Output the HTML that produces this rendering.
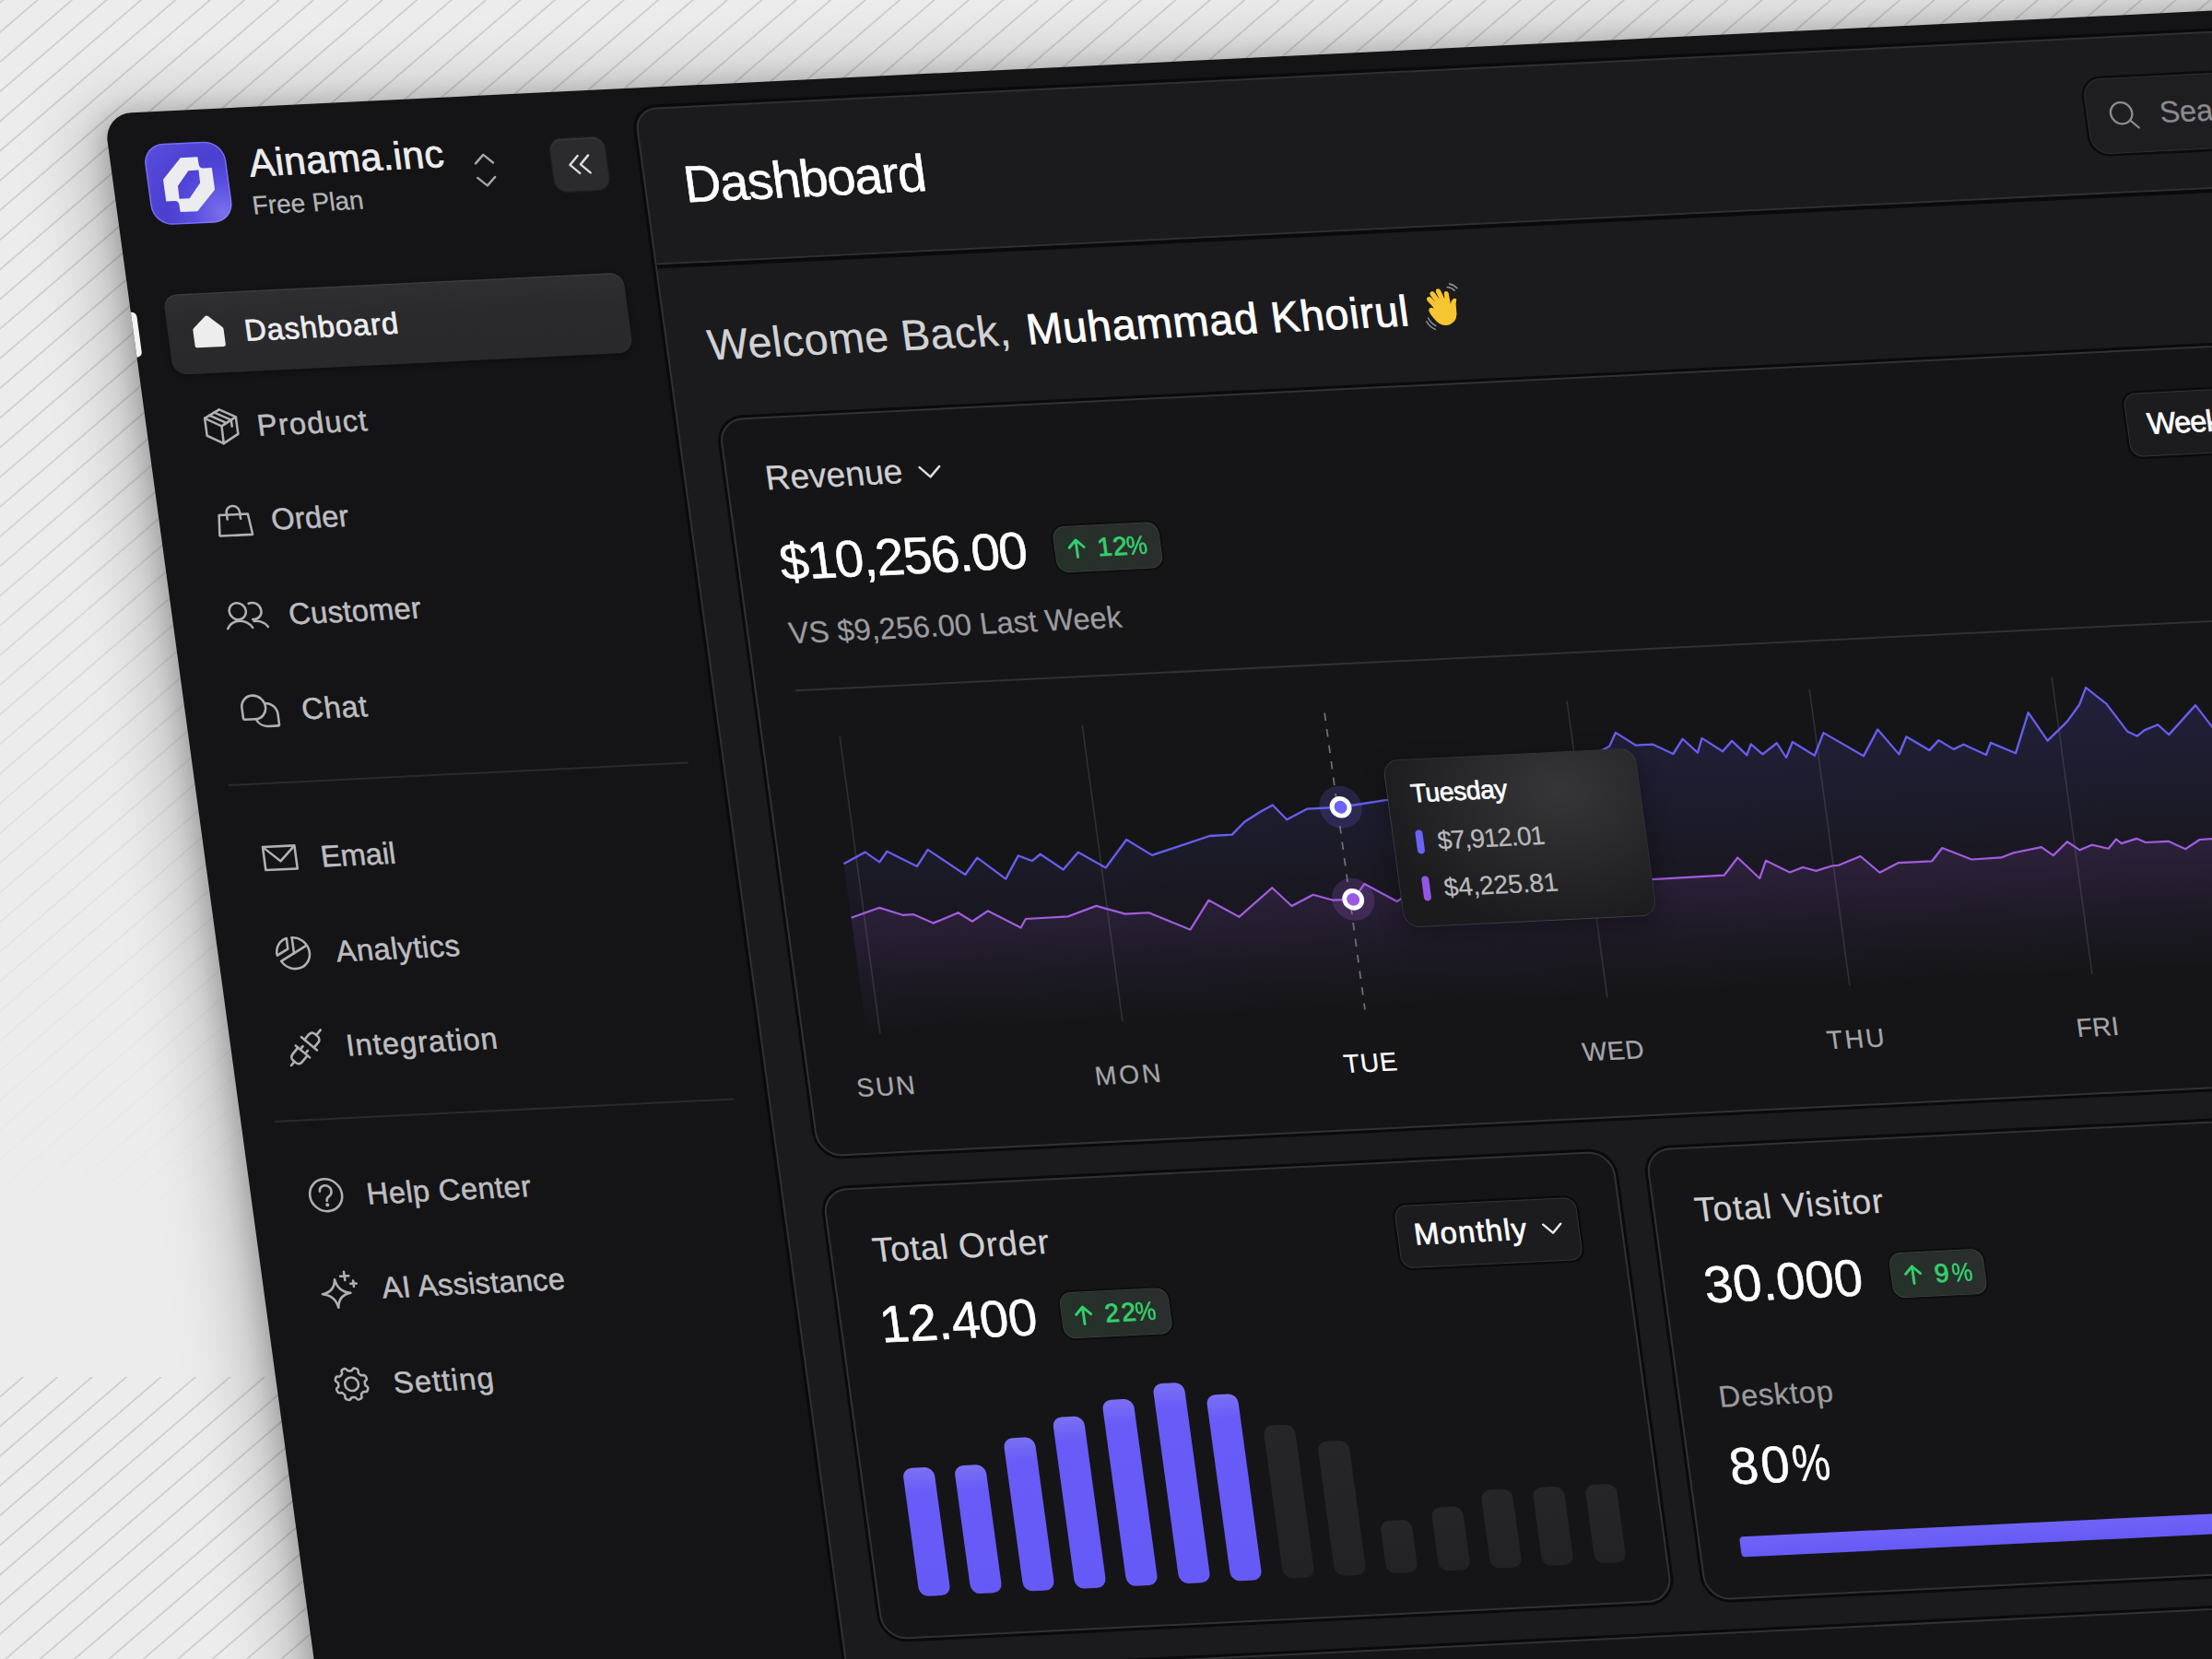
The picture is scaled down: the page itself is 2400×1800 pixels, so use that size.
<!DOCTYPE html>
<html lang="en"><head><meta charset="utf-8"><title>Dashboard</title>
<style>
html,body{margin:0;padding:0}
body{width:2400px;height:1800px;overflow:hidden;position:relative;background:#ececec;font-family:"Liberation Sans",Arial,sans-serif}
#bg{position:absolute;left:0;top:0}
#stage{position:absolute;left:0;top:0;width:0;height:0;transform-origin:0 0;transform:matrix(1,-0.049,0.136,1,112.6,123.7)}
#panel{position:absolute;left:0;top:0;width:2600px;height:2000px;overflow:hidden;background:#141416;border-top-left-radius:30px;box-shadow:-20px -2px 75px rgba(0,0,0,.25),-6px 0 24px rgba(0,0,0,.16)}
.t{position:absolute;white-space:nowrap;display:block}
.ic{position:absolute;overflow:visible}
.card{position:absolute;background:#151517;border:2px solid #323235;box-shadow:0 0 0 3px #0a0a0c;border-radius:27px;box-sizing:border-box}
.badge{position:absolute;box-sizing:border-box;border:1.6px solid #3a403d;border-radius:13px;background:linear-gradient(60deg,#243229 0%,#282f2b 50%,#2b2e2d 100%);box-shadow:0 0 0 2px #0d0e0e}
.btn{position:absolute;box-sizing:border-box;border:1.8px solid #343437;border-radius:13px;background:#1c1c1f;box-shadow:0 0 0 2.5px #0b0b0d}
</style></head><body>
<svg id="bg" width="2400" height="1800" viewBox="0 0 2400 1800"><defs><pattern id="st" width="24.4" height="24.4" patternUnits="userSpaceOnUse" patternTransform="rotate(-40.7)"><rect x="0" y="1.55" width="24.4" height="1.3" fill="#c3c3c5"/></pattern><linearGradient id="fd" x1="0" y1="0" x2="0" y2="1"><stop offset="0" stop-color="#fff"/><stop offset=".3" stop-color="#fff" stop-opacity=".95"/><stop offset=".5" stop-color="#fff" stop-opacity=".55"/><stop offset=".72" stop-color="#fff" stop-opacity=".22"/><stop offset=".9" stop-color="#fff" stop-opacity="0"/></linearGradient><mask id="mk"><rect x="0" y="0" width="2400" height="1494" fill="url(#fd)"/></mask></defs><rect x="0" y="0" width="2400" height="1494" fill="url(#st)" mask="url(#mk)"/><rect x="0" y="1494" width="2400" height="306" fill="url(#st)"/></svg>
<div id="stage"><div id="panel">

<!-- sidebar -->
<div style="position:absolute;left:37px;top:35px;width:88px;height:88px;border-radius:22px;background:radial-gradient(circle at 88% 88%,#7a70ea 0%,#5a4ee0 30%,#4b3fd0 55%,#5b4fe0 100%);box-shadow:inset 0 0 0 1.5px rgba(150,140,255,.55);overflow:hidden"><svg width="88" height="88" viewBox="0 0 88 88" style="position:absolute;left:0;top:0"><path fill-rule="evenodd" fill="#ececee" d="M39.2 16.3 L57.8 16.3 L58 24.4 Q58.2 28.4 62.2 28.6 L71.6 28.6 L71.6 52.3 L49.8 74.7 L31.2 74.7 L31 66.6 Q30.8 62.6 26.8 62.4 L17.4 62.4 L17.4 38.7 Z M45.9 30.5 L57 30.5 L56.7 44.5 L43.1 60.5 L32 60.5 L32.3 46.5 Z"/></svg></div>
<span class="t" style="left:149.1px;top:40.1px;font-size:41.9px;line-height:41.9px;color:#ececee;letter-spacing:0.42px;-webkit-text-stroke:0.75px #ececee;">Ainama.inc</span>
<span class="t" style="left:146.7px;top:93.2px;font-size:28.0px;line-height:28.0px;color:#b4b4b7;letter-spacing:-0.10px;-webkit-text-stroke:0.25px #b4b4b7;">Free Plan</span>
<svg class="ic" style="left:388.6px;top:62px" width="28" height="38" viewBox="0 0 28 38" fill="none" stroke="#a6a6a9" stroke-width="2.4" stroke-linecap="round" stroke-linejoin="round"><path d="M4.5 11 L14 2 L23.5 11"/><path d="M4.5 26.5 L14 35.5 L23.5 26.5"/></svg>
<div style="position:absolute;left:476px;top:51px;width:59px;height:57px;border-radius:13px;background:#2b2b2e;box-shadow:inset 0 1.5px 0 rgba(255,255,255,.07),0 0 0 1.5px #1d1d20"><svg width="59" height="57" viewBox="0 0 59 57" fill="none" stroke="#dcdcde" stroke-width="2.4" stroke-linecap="round" stroke-linejoin="round"><path d="M28.5 19 L19 28.5 L28.5 38"/><path d="M40 19 L30.5 28.5 L40 38"/></svg></div>
<div style="position:absolute;left:36.5px;top:197.5px;width:499.5px;height:87px;border-radius:15px;background:linear-gradient(180deg,#2f2f32 0%,#2a2a2d 40%,#29292c 100%);box-shadow:inset 0 1.5px 0 rgba(255,255,255,.06),0 2px 6px rgba(0,0,0,.35)"></div>
<div style="position:absolute;left:-5px;top:215px;width:10.5px;height:49px;border-radius:6px;background:#f4f4f5"></div>
<svg class="ic" style="left:55.0px;top:213.9px" width="52" height="52" viewBox="-26 -26 52 52" fill="#ededee" stroke="none" stroke-width="2.55" stroke-linecap="round" stroke-linejoin="round"><path d="M0 -17.3 Q0.9 -17.3 1.7 -16.6 L15.6 -4.2 Q16.6 -3.3 16.6 -2 L16.6 14.6 Q16.6 16.9 14.3 16.9 L-14.3 16.9 Q-16.6 16.9 -16.6 14.6 L-16.6 -2 Q-16.6 -3.3 -15.6 -4.2 L-1.7 -16.6 Q-0.9 -17.3 0 -17.3 Z"/></svg>
<span class="t" style="left:119.8px;top:224.8px;font-size:32.6px;line-height:32.6px;color:#ededee;letter-spacing:0.90px;-webkit-text-stroke:0.75px #ededee;">Dashboard</span>
<svg class="ic" style="left:55.0px;top:316.9px" width="52" height="52" viewBox="-26 -26 52 52" fill="none" stroke="#b0b0b3" stroke-width="2.55" stroke-linecap="round" stroke-linejoin="round"><path d="M0 -18.4 L16.9 -9.6 L16.9 8.9 L0 18.4 L-16.8 9.2 L-16.8 -9.6 Z"/><path d="M-16.8 -9.6 L0.3 -0.4 L16.9 -9.6 M0.3 -0.4 L0 18.4"/><path d="M-5.6 -15.4 L11.4 -6.5 L11.4 0.4 M-11.2 -12.5 L5.9 -3.5"/></svg>
<span class="t" style="left:119.7px;top:327.5px;font-size:32.6px;line-height:32.6px;color:#bdbdc0;letter-spacing:1.08px;-webkit-text-stroke:0.5px #bdbdc0;">Product</span>
<svg class="ic" style="left:55.0px;top:419.6px" width="52" height="52" viewBox="-26 -26 52 52" fill="none" stroke="#b0b0b3" stroke-width="2.55" stroke-linecap="round" stroke-linejoin="round"><path d="M-15.6 -7.4 L15.6 -7.4 L17.8 14.2 Q17.9 15 17.1 15 L-17.1 15 Q-17.9 15 -17.8 14.2 Z"/><path d="M-7.2 -2.6 L-7.2 -9.6 A7.2 7.2 0 0 1 7.2 -9.6 L7.2 -2.6"/></svg>
<span class="t" style="left:121.0px;top:430.2px;font-size:32.6px;line-height:32.6px;color:#bdbdc0;letter-spacing:0.17px;-webkit-text-stroke:0.5px #bdbdc0;">Order</span>
<svg class="ic" style="left:55.0px;top:522.3px" width="52" height="52" viewBox="-26 -26 52 52" fill="none" stroke="#b0b0b3" stroke-width="2.55" stroke-linecap="round" stroke-linejoin="round"><circle cx="-9.7" cy="-5" r="9"/><path d="M-22.8 13.4 A15.6 15.6 0 0 1 4.2 13.4"/><path d="M3.2 -12.6 A9 9 0 1 1 5.4 4.5"/><path d="M6.6 6.5 Q16.4 6.2 21 13.2"/></svg>
<span class="t" style="left:125.9px;top:532.9px;font-size:32.6px;line-height:32.6px;color:#bdbdc0;letter-spacing:0.31px;-webkit-text-stroke:0.5px #bdbdc0;">Customer</span>
<svg class="ic" style="left:55.0px;top:625.0px" width="52" height="52" viewBox="-26 -26 52 52" fill="none" stroke="#b0b0b3" stroke-width="2.55" stroke-linecap="round" stroke-linejoin="round"><path d="M-19.2 -3.6 A12.8 12.8 0 1 1 -6.4 9.2 L-17.7 9.2 Q-19.2 9.2 -19.2 7.7 Z"/><path d="M5.79 -7.49 A12.5 12.5 0 0 1 18.70 5.00 L18.70 16.00 Q18.70 17.50 17.20 17.50 L6.20 17.50 A12.5 12.5 0 0 1 -5.58 9.17"/></svg>
<span class="t" style="left:125.9px;top:635.6px;font-size:32.6px;line-height:32.6px;color:#bdbdc0;letter-spacing:0.71px;-webkit-text-stroke:0.5px #bdbdc0;">Chat</span>
<svg class="ic" style="left:55.0px;top:785.3px" width="52" height="52" viewBox="-26 -26 52 52" fill="none" stroke="#b0b0b3" stroke-width="2.55" stroke-linecap="round" stroke-linejoin="round"><path d="M-17.2 -12.5 L17.2 -12.5 L17.2 12.5 L-17.2 12.5 Z"/><path d="M-16.6 -11.9 L0 3.6 L16.6 -11.9"/></svg>
<span class="t" style="left:124.9px;top:795.9px;font-size:32.6px;line-height:32.6px;color:#bdbdc0;letter-spacing:-0.09px;-webkit-text-stroke:0.5px #bdbdc0;">Email</span>
<svg class="ic" style="left:55.0px;top:888.0px" width="52" height="52" viewBox="-26 -26 52 52" fill="none" stroke="#b0b0b3" stroke-width="2.55" stroke-linecap="round" stroke-linejoin="round"><path d="M1 -16.4 A16.9 16.9 0 1 1 -13.9 8.5 L15.9 -7.4"/><path d="M1 -16.4 L1 0.5"/><path d="M-4.9 -16 L-5 -4.4 L-17.4 2 A16.8 16.8 0 0 1 -4.9 -16 Z"/></svg>
<span class="t" style="left:127.5px;top:898.6px;font-size:32.6px;line-height:32.6px;color:#bdbdc0;letter-spacing:0.46px;-webkit-text-stroke:0.5px #bdbdc0;">Analytics</span>
<svg class="ic" style="left:55.0px;top:990.7px" width="52" height="52" viewBox="-26 -26 52 52" fill="none" stroke="#b0b0b3" stroke-width="2.55" stroke-linecap="round" stroke-linejoin="round"><g transform="rotate(-45)"><path d="M-26 0 L-20.3 0 M18.4 0 L26 0"/><path d="M-5.7 -6.4 L-15 -6.4 Q-20.3 -6.4 -20.3 -1.2 L-20.3 1.2 Q-20.3 6.4 -15 6.4 L-5.7 6.4"/><path d="M-5.7 -9.6 L-5.7 9.6 M-5.7 -3.4 L-1 -3.4 M-5.7 3.4 L-1 3.4"/><path d="M5.9 -10.6 L5.9 10.6"/><path d="M5.9 -6.4 L13.1 -6.4 Q18.4 -6.4 18.4 -1.2 L18.4 1.2 Q18.4 6.4 13.1 6.4 L5.9 6.4"/></g></svg>
<span class="t" style="left:124.6px;top:1001.3px;font-size:32.6px;line-height:32.6px;color:#bdbdc0;letter-spacing:1.00px;-webkit-text-stroke:0.5px #bdbdc0;">Integration</span>
<svg class="ic" style="left:55.0px;top:1151.0px" width="52" height="52" viewBox="-26 -26 52 52" fill="none" stroke="#b0b0b3" stroke-width="2.55" stroke-linecap="round" stroke-linejoin="round"><circle cx="0" cy="0" r="17.4"/><path d="M-6.2 -4.4 A6.3 6.3 0 1 1 3.4 1.2 Q0.2 2.8 0.2 6.2"/><circle cx="0.2" cy="10.6" r="1.5" fill="#b0b0b3" stroke-width="1"/></svg>
<span class="t" style="left:124.9px;top:1161.6px;font-size:32.6px;line-height:32.6px;color:#bdbdc0;letter-spacing:0.42px;-webkit-text-stroke:0.5px #bdbdc0;">Help Center</span>
<svg class="ic" style="left:55.0px;top:1253.7px" width="52" height="52" viewBox="-26 -26 52 52" fill="none" stroke="#b0b0b3" stroke-width="2.55" stroke-linecap="round" stroke-linejoin="round"><path d="M-3 -11.7 Q-1.2 1.8 12.3 3.6 Q-1.2 5.4 -3 18.9 Q-4.8 5.4 -18.3 3.6 Q-4.8 1.8 -3 -11.7 Z"/><path d="M8 -19.5 L8 -10.3 M3.4 -14.9 L12.6 -14.9 M16.7 -9.5 L16.7 -3.1 M13.5 -6.3 L19.9 -6.3"/></svg>
<span class="t" style="left:127.5px;top:1264.3px;font-size:32.6px;line-height:32.6px;color:#bdbdc0;letter-spacing:0.23px;-webkit-text-stroke:0.5px #bdbdc0;">AI Assistance</span>
<svg class="ic" style="left:55.0px;top:1356.4px" width="52" height="52" viewBox="-26 -26 52 52" fill="none" stroke="#b0b0b3" stroke-width="2.55" stroke-linecap="round" stroke-linejoin="round"><circle cx="0" cy="0" r="7.3"/><path d="M16.49 6.83 L16.20 7.47 L15.87 8.08 L15.42 8.64 L14.68 9.00 L13.39 8.94 L12.12 8.80 L11.40 8.99 L10.94 9.35 L10.54 9.75 L10.15 10.15 L9.75 10.54 L9.35 10.94 L8.99 11.40 L8.80 12.12 L8.94 13.39 L9.00 14.68 L8.64 15.42 L8.08 15.87 L7.47 16.20 L6.83 16.49 L6.18 16.74 L5.50 16.94 L4.80 17.02 L4.02 16.75 L3.14 15.79 L2.34 14.79 L1.71 14.42 L1.13 14.35 L0.56 14.35 L0.00 14.35 L-0.56 14.35 L-1.13 14.35 L-1.71 14.42 L-2.34 14.79 L-3.14 15.79 L-4.02 16.75 L-4.80 17.02 L-5.50 16.94 L-6.18 16.74 L-6.83 16.49 L-7.47 16.20 L-8.08 15.87 L-8.64 15.42 L-9.00 14.68 L-8.94 13.39 L-8.80 12.12 L-8.99 11.40 L-9.35 10.94 L-9.75 10.54 L-10.15 10.15 L-10.54 9.75 L-10.94 9.35 L-11.40 8.99 L-12.12 8.80 L-13.39 8.94 L-14.68 9.00 L-15.42 8.64 L-15.87 8.08 L-16.20 7.47 L-16.49 6.83 L-16.74 6.18 L-16.94 5.50 L-17.02 4.80 L-16.75 4.02 L-15.79 3.14 L-14.79 2.34 L-14.42 1.71 L-14.35 1.13 L-14.35 0.56 L-14.35 0.00 L-14.35 -0.56 L-14.35 -1.13 L-14.42 -1.71 L-14.79 -2.34 L-15.79 -3.14 L-16.75 -4.02 L-17.02 -4.80 L-16.94 -5.50 L-16.74 -6.18 L-16.49 -6.83 L-16.20 -7.47 L-15.87 -8.08 L-15.42 -8.64 L-14.68 -9.00 L-13.39 -8.94 L-12.12 -8.80 L-11.40 -8.99 L-10.94 -9.35 L-10.54 -9.75 L-10.15 -10.15 L-9.75 -10.54 L-9.35 -10.94 L-8.99 -11.40 L-8.80 -12.12 L-8.94 -13.39 L-9.00 -14.68 L-8.64 -15.42 L-8.08 -15.87 L-7.47 -16.20 L-6.83 -16.49 L-6.18 -16.74 L-5.50 -16.94 L-4.80 -17.02 L-4.02 -16.75 L-3.14 -15.79 L-2.34 -14.79 L-1.71 -14.42 L-1.13 -14.35 L-0.56 -14.35 L-0.00 -14.35 L0.56 -14.35 L1.13 -14.35 L1.71 -14.42 L2.34 -14.79 L3.14 -15.79 L4.02 -16.75 L4.80 -17.02 L5.50 -16.94 L6.18 -16.74 L6.83 -16.49 L7.47 -16.20 L8.08 -15.87 L8.64 -15.42 L9.00 -14.68 L8.94 -13.39 L8.80 -12.12 L8.99 -11.40 L9.35 -10.94 L9.75 -10.54 L10.15 -10.15 L10.54 -9.75 L10.94 -9.35 L11.40 -8.99 L12.12 -8.80 L13.39 -8.94 L14.68 -9.00 L15.42 -8.64 L15.87 -8.08 L16.20 -7.47 L16.49 -6.83 L16.74 -6.18 L16.94 -5.50 L17.02 -4.80 L16.75 -4.02 L15.79 -3.14 L14.79 -2.34 L14.42 -1.71 L14.35 -1.13 L14.35 -0.56 L14.35 -0.00 L14.35 0.56 L14.35 1.13 L14.42 1.71 L14.79 2.34 L15.79 3.14 L16.75 4.02 L17.02 4.80 L16.94 5.50 L16.74 6.18 Z"/></svg>
<span class="t" style="left:126.0px;top:1367.0px;font-size:32.6px;line-height:32.6px;color:#bdbdc0;letter-spacing:1.22px;-webkit-text-stroke:0.5px #bdbdc0;">Setting</span>
<div style="position:absolute;left:36.0px;top:729.0px;width:499.0px;height:2.0px;background:#2a2a2d"></div>
<div style="position:absolute;left:36.0px;top:1094.0px;width:499.0px;height:2.0px;background:#2a2a2d"></div>
<!-- main -->
<div style="position:absolute;left:571.5px;top:22px;width:2100px;height:2000px;background:#1b1b1e;border:2px solid #303033;border-top-left-radius:24px;box-shadow:0 0 0 3.2px #0a0a0c;box-sizing:border-box"></div>
<div style="position:absolute;left:573.5px;top:190.0px;width:2100.0px;height:2.0px;background:#303033"></div>
<div style="position:absolute;left:573.5px;top:192.0px;width:2100.0px;height:3.6px;background:#0a0a0c"></div>
<span class="t" style="left:614.7px;top:79.0px;font-size:55.9px;line-height:55.9px;color:#ffffff;letter-spacing:-1.30px;-webkit-text-stroke:0.55px #ffffff;">Dashboard</span>
<div class="btn" style="left:2137px;top:67px;width:420px;height:82px;border-radius:20px;background:#1e1e21;border-color:#2e2e31"></div>
<svg class="ic" style="left:2158px;top:89px" width="40" height="40" viewBox="0 0 40 40" fill="none" stroke="#8c8c90" stroke-width="2.3" stroke-linecap="round"><circle cx="16.7" cy="16.6" r="11.6"/><path d="M25.2 25 L33.6 33.2"/></svg>
<span class="t" style="left:2216.0px;top:91.4px;font-size:32.6px;line-height:32.6px;color:#8a8a8e;letter-spacing:-0.15px;-webkit-text-stroke:0.25px #8a8a8e;">Search</span>
<span class="t" style="left:616.9px;top:257.8px;font-size:46.6px;line-height:46.6px;color:#d2d2d4;letter-spacing:0.45px;-webkit-text-stroke:0.25px #d2d2d4;">Welcome Back,</span>
<span class="t" style="left:962.7px;top:257.8px;font-size:46.6px;line-height:46.6px;color:#ffffff;letter-spacing:0.70px;-webkit-text-stroke:0.75px #ffffff;">Muhammad Khoirul</span>
<svg class="ic" style="left:1391px;top:256px" width="48" height="48" viewBox="0 0 48 48"><g transform="rotate(-12 24 24)"><path d="M14 20 L10.5 12.5 Q9.5 9.5 12 8.6 Q14.4 7.8 15.6 10.4 L18 15.5 L15.6 7.4 Q15 4.4 17.6 3.8 Q20 3.2 21 6 L23.4 13.6 L22.6 5.6 Q22.6 2.8 25 2.6 Q27.6 2.6 28 5.4 L29 15 L30.4 9.4 Q31.2 6.8 33.4 7.4 Q35.8 8.2 35.2 11 L33.4 22 Q35 18.6 37.6 17.4 Q40.6 16.4 41.4 18.4 Q38.4 23 37.4 29 Q35.4 41 25.6 42.6 Q17 43.6 12.6 36 Q9 29 8.4 24.6 Q7.8 21 10.4 20.2 Q12.8 19.6 14 22 Z" fill="#f7c531"/><path d="M5 30 Q5.5 36 10 40 M2 33 Q3 39.5 8 43.5 M36 3.5 Q40.5 5 42.5 9 M39.5 1 Q44 3 46 7.5" fill="none" stroke="#8d8d92" stroke-width="1.6" stroke-linecap="round"/></g></svg>
<div class="card" style="left:616.5px;top:360.5px;width:1800px;height:801.5px"></div>
<span class="t" style="left:659.6px;top:409.3px;font-size:37.3px;line-height:37.3px;color:#cfcfd2;letter-spacing:-0.09px;-webkit-text-stroke:0.25px #cfcfd2;">Revenue</span>
<svg class="ic" style="left:826.2px;top:420px" width="24" height="20" viewBox="0 0 24 20" fill="none" stroke="#dedee0" stroke-width="2.5" stroke-linecap="round" stroke-linejoin="round"><path d="M1.4 4 L11.8 14.8 L22.8 3.9"/></svg>
<span class="t" style="left:663.1px;top:491.0px;font-size:55.9px;line-height:55.9px;color:#ffffff;letter-spacing:-1.28px;-webkit-text-stroke:0.55px #ffffff;">$10,256.00</span>
<div class="badge" style="left:961px;top:494.5px;width:114.5px;height:50px"></div><svg class="ic" style="left:974.5px;top:508.0px" width="20" height="23" viewBox="0 0 20 23" fill="none" stroke="#33cf6c" stroke-width="2.9" stroke-linecap="round" stroke-linejoin="round"><path d="M10 21 L10 2.5 M2 10.5 L10 2.5 L18 10.5"/></svg><span class="t" style="left:1007.4px;top:505.8px;font-size:28.0px;line-height:28.0px;color:#33cf6c;letter-spacing:1.25px;-webkit-text-stroke:0.8px #33cf6c;">12</span><span class="t" style="left:1038.6px;top:505.8px;font-size:28.0px;line-height:28.0px;color:#33cf6c;transform:scaleX(0.897);transform-origin:0 0;-webkit-text-stroke:0.55px #33cf6c;">%</span>
<span class="t" style="left:662.3px;top:580.0px;font-size:32.6px;line-height:32.6px;color:#9c9ca0;letter-spacing:0.05px;-webkit-text-stroke:0.25px #9c9ca0;">VS $9,256.00 Last Week</span>
<div style="position:absolute;left:660.7px;top:657.2px;width:1760.0px;height:2.2px;background:#313134"></div>
<svg class="ic" style="left:0;top:0" width="2600" height="1300" viewBox="0 0 2600 1300"><defs><linearGradient id="gb" gradientUnits="userSpaceOnUse" x1="0" y1="720" x2="0" y2="1032"><stop offset="0" stop-color="#6a5cff" stop-opacity=".16"/><stop offset=".55" stop-color="#6a5cff" stop-opacity=".05"/><stop offset="1" stop-color="#6a5cff" stop-opacity="0"/></linearGradient><linearGradient id="gp" gradientUnits="userSpaceOnUse" x1="0" y1="885" x2="0" y2="1032"><stop offset="0" stop-color="#b25cf0" stop-opacity=".13"/><stop offset=".6" stop-color="#b25cf0" stop-opacity=".04"/><stop offset="1" stop-color="#b25cf0" stop-opacity="0"/></linearGradient></defs><path d="M702 710 L702 1032" stroke="#303033" stroke-width="1.6"/><path d="M965 710 L965 1032" stroke="#303033" stroke-width="1.6"/><path d="M1491 710 L1491 1032" stroke="#303033" stroke-width="1.6"/><path d="M1754 710 L1754 1032" stroke="#303033" stroke-width="1.6"/><path d="M2017 710 L2017 1032" stroke="#303033" stroke-width="1.6"/><path d="M2280 710 L2280 1032" stroke="#303033" stroke-width="1.6"/><path d="M2543 710 L2543 1032" stroke="#303033" stroke-width="1.6"/><path d="M687.6 847.3 L712.5 835.8 L726.4 847.3 L736.1 836.1 L766.2 853.9 L780.3 836.4 L817.0 865.3 L832.4 847.7 L860.0 872.1 L876.9 847.7 L891.0 854.0 L900.9 847.2 L923.4 865.1 L942.1 847.1 L969.5 865.2 L995.9 836.1 L1021.2 854.2 L1086.0 836.5 L1110.4 836.3 L1125.7 823.2 L1144.8 812.8 L1158.5 806.6 L1171.7 823.0 L1194.9 812.5 L1231.5 812.4 L1281.0 807.2 L1330.0 806.0 L1365.0 790.0 L1400.0 797.0 L1440.0 778.0 L1480.0 784.0 L1530.1 761.1 L1538.8 746.6 L1558.5 761.2 L1577.5 761.3 L1597.7 772.6 L1610.1 756.9 L1624.3 772.5 L1631.0 757.1 L1651.4 772.5 L1662.9 761.7 L1677.0 777.8 L1682.9 766.2 L1694.1 777.7 L1711.0 766.4 L1719.0 782.5 L1728.1 766.0 L1749.9 781.8 L1762.8 757.8 L1802.7 784.8 L1821.7 757.0 L1841.1 784.9 L1851.6 766.2 L1874.3 782.2 L1885.9 771.9 L1900.7 782.3 L1912.2 777.7 L1934.9 790.1 L1941.6 777.3 L1967.0 789.9 L1986.5 746.8 L2003.2 778.1 L2027.1 758.5 L2042.6 741.2 L2052.3 722.9 L2072.0 741.5 L2090.4 772.2 L2100.5 777.9 L2108.9 772.0 L2124.4 766.6 L2134.8 778.0 L2167.8 747.7 L2182.4 771.7 L2200.0 782.0 L2215.0 760.0 L2240.0 775.0 L2260.0 752.0 L2290.0 770.0 L2330.0 758.0 L2380.0 772.0 L2420.0 760.0 L2420 1032 L687.6 1032 Z" fill="url(#gb)"/><path d="M687.8 905.7 L719.8 896.4 L744.3 905.7 L755.1 905.4 L775.4 915.9 L803.9 905.9 L817.7 916.1 L836.0 905.6 L869.1 925.4 L875.7 916.2 L921.9 915.8 L953.6 905.9 L983.7 916.1 L1009.2 916.0 L1051.5 936.5 L1075.7 905.7 L1105.9 925.3 L1145.9 895.7 L1164.3 916.3 L1189.0 905.3 L1209.8 912.3 L1231.5 912.5 L1245.9 896.4 L1278.3 917.0 L1300.0 905.0 L1340.0 916.0 L1380.0 906.0 L1420.0 912.0 L1470.0 906.0 L1556.4 906.7 L1635.1 906.0 L1652.0 887.8 L1672.7 911.2 L1682.0 892.5 L1706.0 906.4 L1721.0 901.6 L1734.5 906.2 L1752.5 901.7 L1759.8 901.3 L1784.6 892.8 L1802.9 911.4 L1824.8 901.8 L1861.0 901.8 L1873.9 888.2 L1903.9 902.1 L1936.0 901.6 L1950.2 897.1 L1980.9 892.5 L1992.5 902.1 L2009.5 888.0 L2022.0 897.7 L2035.6 892.7 L2053.0 897.6 L2062.7 887.9 L2067.7 892.7 L2084.8 888.3 L2093.9 892.9 L2118.7 892.9 L2136.0 902.1 L2152.6 892.8 L2166.0 892.5 L2200.0 893.0 L2230.0 886.0 L2260.0 895.0 L2300.0 888.0 L2340.0 893.0 L2380.0 886.0 L2420.0 890.0 L2420 1032 L687.8 1032 Z" fill="url(#gp)"/><path d="M687.6 847.3 L712.5 835.8 L726.4 847.3 L736.1 836.1 L766.2 853.9 L780.3 836.4 L817.0 865.3 L832.4 847.7 L860.0 872.1 L876.9 847.7 L891.0 854.0 L900.9 847.2 L923.4 865.1 L942.1 847.1 L969.5 865.2 L995.9 836.1 L1021.2 854.2 L1086.0 836.5 L1110.4 836.3 L1125.7 823.2 L1144.8 812.8 L1158.5 806.6 L1171.7 823.0 L1194.9 812.5 L1231.5 812.4 L1281.0 807.2 L1330.0 806.0 L1365.0 790.0 L1400.0 797.0 L1440.0 778.0 L1480.0 784.0 L1530.1 761.1 L1538.8 746.6 L1558.5 761.2 L1577.5 761.3 L1597.7 772.6 L1610.1 756.9 L1624.3 772.5 L1631.0 757.1 L1651.4 772.5 L1662.9 761.7 L1677.0 777.8 L1682.9 766.2 L1694.1 777.7 L1711.0 766.4 L1719.0 782.5 L1728.1 766.0 L1749.9 781.8 L1762.8 757.8 L1802.7 784.8 L1821.7 757.0 L1841.1 784.9 L1851.6 766.2 L1874.3 782.2 L1885.9 771.9 L1900.7 782.3 L1912.2 777.7 L1934.9 790.1 L1941.6 777.3 L1967.0 789.9 L1986.5 746.8 L2003.2 778.1 L2027.1 758.5 L2042.6 741.2 L2052.3 722.9 L2072.0 741.5 L2090.4 772.2 L2100.5 777.9 L2108.9 772.0 L2124.4 766.6 L2134.8 778.0 L2167.8 747.7 L2182.4 771.7 L2200.0 782.0 L2215.0 760.0 L2240.0 775.0 L2260.0 752.0 L2290.0 770.0 L2330.0 758.0 L2380.0 772.0 L2420.0 760.0" fill="none" stroke="#665ef0" stroke-width="2.3" stroke-linejoin="round"/><path d="M687.8 905.7 L719.8 896.4 L744.3 905.7 L755.1 905.4 L775.4 915.9 L803.9 905.9 L817.7 916.1 L836.0 905.6 L869.1 925.4 L875.7 916.2 L921.9 915.8 L953.6 905.9 L983.7 916.1 L1009.2 916.0 L1051.5 936.5 L1075.7 905.7 L1105.9 925.3 L1145.9 895.7 L1164.3 916.3 L1189.0 905.3 L1209.8 912.3 L1231.5 912.5 L1245.9 896.4 L1278.3 917.0 L1300.0 905.0 L1340.0 916.0 L1380.0 906.0 L1420.0 912.0 L1470.0 906.0 L1556.4 906.7 L1635.1 906.0 L1652.0 887.8 L1672.7 911.2 L1682.0 892.5 L1706.0 906.4 L1721.0 901.6 L1734.5 906.2 L1752.5 901.7 L1759.8 901.3 L1784.6 892.8 L1802.9 911.4 L1824.8 901.8 L1861.0 901.8 L1873.9 888.2 L1903.9 902.1 L1936.0 901.6 L1950.2 897.1 L1980.9 892.5 L1992.5 902.1 L2009.5 888.0 L2022.0 897.7 L2035.6 892.7 L2053.0 897.6 L2062.7 887.9 L2067.7 892.7 L2084.8 888.3 L2093.9 892.9 L2118.7 892.9 L2136.0 902.1 L2152.6 892.8 L2166.0 892.5 L2200.0 893.0 L2230.0 886.0 L2260.0 895.0 L2300.0 888.0 L2340.0 893.0 L2380.0 886.0 L2420.0 890.0" fill="none" stroke="#a35ce0" stroke-width="2.2" stroke-linejoin="round"/><path d="M1228 710 L1228 1032" stroke="#6e6e73" stroke-width="1.8" stroke-dasharray="8.5 9"/><circle cx="1231.5" cy="812.4" r="23" fill="#6b63f6" fill-opacity=".2"/><circle cx="1231.5" cy="812.4" r="11.8" fill="#ffffff"/><circle cx="1231.5" cy="812.4" r="6.9" fill="#6b63f6"/><circle cx="1231.5" cy="912.5" r="23" fill="#a85fe6" fill-opacity=".2"/><circle cx="1231.5" cy="912.5" r="11.8" fill="#ffffff"/><circle cx="1231.5" cy="912.5" r="6.9" fill="#9a58e0"/></svg>
<div style="position:absolute;left:1282.5px;top:764px;width:274px;height:182px;border-radius:17px;box-sizing:border-box;border:1.5px solid rgba(255,255,255,.09);background:radial-gradient(ellipse 75% 85% at 68% 22%,#363638 0%,#2a2a2c 45%,#1b1b1d 100%);box-shadow:0 8px 24px rgba(0,0,0,.35)"></div>
<span class="t" style="left:1309.1px;top:787.5px;font-size:28.0px;line-height:28.0px;color:#ffffff;letter-spacing:-0.29px;-webkit-text-stroke:0.7px #ffffff;">Tuesday</span>
<div style="position:absolute;left:1308.0px;top:840.6px;width:8.4px;height:26.8px;background:#6b63f6;border-radius:4.2px"></div>
<span class="t" style="left:1331.1px;top:840.3px;font-size:28.0px;line-height:28.0px;color:#b9b9bc;letter-spacing:-1.05px;-webkit-text-stroke:0.25px #b9b9bc;">$7,912.01</span>
<div style="position:absolute;left:1308.0px;top:891.0px;width:8.4px;height:26.8px;background:#9356e6;border-radius:4.2px"></div>
<span class="t" style="left:1331.1px;top:890.8px;font-size:28.0px;line-height:28.0px;color:#b9b9bc;letter-spacing:-0.12px;-webkit-text-stroke:0.25px #b9b9bc;">$4,225.81</span>
<span class="t" style="left:668.8px;top:1076.3px;font-size:28.0px;line-height:28.0px;color:#a6a6aa;letter-spacing:1.93px;-webkit-text-stroke:0.25px #a6a6aa;">SUN</span>
<span class="t" style="left:927.3px;top:1076.3px;font-size:28.0px;line-height:28.0px;color:#a6a6aa;letter-spacing:2.84px;-webkit-text-stroke:0.25px #a6a6aa;">MON</span>
<span class="t" style="left:1197.2px;top:1076.3px;font-size:28.0px;line-height:28.0px;color:#ffffff;letter-spacing:0.88px;-webkit-text-stroke:0.25px #ffffff;">TUE</span>
<span class="t" style="left:1456.2px;top:1076.3px;font-size:28.0px;line-height:28.0px;color:#a6a6aa;letter-spacing:0.55px;-webkit-text-stroke:0.25px #a6a6aa;">WED</span>
<span class="t" style="left:1721.5px;top:1076.3px;font-size:28.0px;line-height:28.0px;color:#a6a6aa;letter-spacing:2.31px;-webkit-text-stroke:0.25px #a6a6aa;">THU</span>
<span class="t" style="left:1992.1px;top:1076.3px;font-size:28.0px;line-height:28.0px;color:#a6a6aa;letter-spacing:0.34px;-webkit-text-stroke:0.25px #a6a6aa;">FRI</span>
<span class="t" style="left:2250.0px;top:1076.3px;font-size:28.0px;line-height:28.0px;color:#a6a6aa;letter-spacing:1.23px;-webkit-text-stroke:0.25px #a6a6aa;">SAT</span>
<div class="btn" style="left:2135px;top:407.5px;width:197.5px;height:69.5px"></div>
<span class="t" style="left:2157.2px;top:425.9px;font-size:32.6px;line-height:32.6px;color:#ffffff;letter-spacing:-1.04px;-webkit-text-stroke:0.7px #ffffff;">Weekly</span>
<div class="card" style="left:616px;top:1197px;width:858px;height:489px"></div>
<span class="t" style="left:662.0px;top:1246.7px;font-size:37.3px;line-height:37.3px;color:#cfcfd2;letter-spacing:0.69px;-webkit-text-stroke:0.25px #cfcfd2;">Total Order</span>
<span class="t" style="left:659.1px;top:1317.9px;font-size:55.9px;line-height:55.9px;color:#ffffff;letter-spacing:-0.13px;-webkit-text-stroke:0.55px #ffffff;">12.400</span>
<div class="badge" style="left:856px;top:1321px;width:118px;height:50px"></div><svg class="ic" style="left:869.5px;top:1334.5px" width="20" height="23" viewBox="0 0 20 23" fill="none" stroke="#33cf6c" stroke-width="2.9" stroke-linecap="round" stroke-linejoin="round"><path d="M10 21 L10 2.5 M2 10.5 L10 2.5 L18 10.5"/></svg><span class="t" style="left:903.1px;top:1332.3px;font-size:28.0px;line-height:28.0px;color:#33cf6c;letter-spacing:2.45px;-webkit-text-stroke:0.8px #33cf6c;">22</span><span class="t" style="left:935.9px;top:1332.3px;font-size:28.0px;line-height:28.0px;color:#33cf6c;transform:scaleX(0.897);transform-origin:0 0;-webkit-text-stroke:0.55px #33cf6c;">%</span>
<div class="btn" style="left:1229.5px;top:1244.5px;width:197.5px;height:68px"></div>
<span class="t" style="left:1247.9px;top:1260.9px;font-size:32.6px;line-height:32.6px;color:#ffffff;letter-spacing:1.32px;-webkit-text-stroke:0.7px #ffffff;">Monthly</span>
<svg class="ic" style="left:1385.5px;top:1268.5px" width="24" height="20" viewBox="0 0 24 20" fill="none" stroke="#ececee" stroke-width="2.4" stroke-linecap="round" stroke-linejoin="round"><path d="M2.5 4 L12 13.5 L21.5 4"/></svg>
<div style="position:absolute;left:662.0px;top:1501.6px;width:34.0px;height:139.2px;background:linear-gradient(180deg,#7b71f3 0,#685bf8 26px,#665af7 100%);border-radius:10px"></div>
<div style="position:absolute;left:718.4px;top:1501.6px;width:34.0px;height:139.2px;background:linear-gradient(180deg,#7b71f3 0,#685bf8 26px,#665af7 100%);border-radius:10px"></div>
<div style="position:absolute;left:774.7px;top:1475.3px;width:34.0px;height:165.5px;background:linear-gradient(180deg,#7b71f3 0,#685bf8 26px,#665af7 100%);border-radius:10px"></div>
<div style="position:absolute;left:831.0px;top:1455.0px;width:34.0px;height:185.8px;background:linear-gradient(180deg,#7b71f3 0,#685bf8 26px,#665af7 100%);border-radius:10px"></div>
<div style="position:absolute;left:887.4px;top:1439.3px;width:34.0px;height:201.5px;background:linear-gradient(180deg,#7b71f3 0,#685bf8 26px,#665af7 100%);border-radius:10px"></div>
<div style="position:absolute;left:943.8px;top:1423.7px;width:34.0px;height:217.1px;background:linear-gradient(180deg,#7b71f3 0,#685bf8 26px,#665af7 100%);border-radius:10px"></div>
<div style="position:absolute;left:1000.1px;top:1439.4px;width:34.0px;height:201.4px;background:linear-gradient(180deg,#7b71f3 0,#685bf8 26px,#665af7 100%);border-radius:10px"></div>
<div style="position:absolute;left:1056.5px;top:1474.7px;width:34.0px;height:166.1px;background:linear-gradient(180deg,#262628 0,#222224 100%);border-radius:10px"></div>
<div style="position:absolute;left:1112.8px;top:1495.1px;width:34.0px;height:145.7px;background:linear-gradient(180deg,#262628 0,#222224 100%);border-radius:10px"></div>
<div style="position:absolute;left:1169.2px;top:1584.2px;width:34.0px;height:56.6px;background:linear-gradient(180deg,#262628 0,#222224 100%);border-radius:10px"></div>
<div style="position:absolute;left:1225.5px;top:1572.0px;width:34.0px;height:68.8px;background:linear-gradient(180deg,#262628 0,#222224 100%);border-radius:10px"></div>
<div style="position:absolute;left:1281.8px;top:1555.7px;width:34.0px;height:85.1px;background:linear-gradient(180deg,#262628 0,#222224 100%);border-radius:10px"></div>
<div style="position:absolute;left:1338.2px;top:1555.7px;width:34.0px;height:85.1px;background:linear-gradient(180deg,#262628 0,#222224 100%);border-radius:10px"></div>
<div style="position:absolute;left:1394.6px;top:1555.7px;width:34.0px;height:85.1px;background:linear-gradient(180deg,#262628 0,#222224 100%);border-radius:10px"></div>
<div class="card" style="left:1509px;top:1197px;width:900px;height:490px"></div>
<span class="t" style="left:1554.0px;top:1246.7px;font-size:37.3px;line-height:37.3px;color:#cfcfd2;letter-spacing:1.04px;-webkit-text-stroke:0.25px #cfcfd2;">Total Visitor</span>
<span class="t" style="left:1553.2px;top:1319.1px;font-size:55.9px;line-height:55.9px;color:#ffffff;letter-spacing:0.16px;-webkit-text-stroke:0.55px #ffffff;">30.000</span>
<div class="badge" style="left:1756px;top:1321.5px;width:102px;height:49px"></div><svg class="ic" style="left:1769.5px;top:1335.0px" width="20" height="23" viewBox="0 0 20 23" fill="none" stroke="#33cf6c" stroke-width="2.9" stroke-linecap="round" stroke-linejoin="round"><path d="M10 21 L10 2.5 M2 10.5 L10 2.5 L18 10.5"/></svg><span class="t" style="left:1803.2px;top:1332.8px;font-size:28.0px;line-height:28.0px;color:#33cf6c;-webkit-text-stroke:0.8px #33cf6c;">9</span><span class="t" style="left:1821.8px;top:1332.8px;font-size:28.0px;line-height:28.0px;color:#33cf6c;transform:scaleX(0.897);transform-origin:0 0;-webkit-text-stroke:0.55px #33cf6c;">%</span>
<span class="t" style="left:1552.4px;top:1452.1px;font-size:32.6px;line-height:32.6px;color:#9b9b9f;letter-spacing:0.73px;-webkit-text-stroke:0.25px #9b9b9f;">Desktop</span>
<span class="t" style="left:1553.9px;top:1515.5px;font-size:55.9px;line-height:55.9px;color:#ffffff;letter-spacing:2.82px;-webkit-text-stroke:0.55px #ffffff;">80</span><span class="t" style="left:1622.0px;top:1515.5px;font-size:55.9px;line-height:55.9px;color:#ffffff;transform:scaleX(0.818);transform-origin:0 0;-webkit-text-stroke:0.3px #ffffff;">%</span>
<div style="position:absolute;left:1553.7px;top:1620.0px;width:700.0px;height:21.5px;background:linear-gradient(180deg,#6f63f6,#665af7);border-radius:4px"></div>
<div class="card" style="left:616px;top:1721.5px;width:1800px;height:300px"></div>
</div></div></body></html>
